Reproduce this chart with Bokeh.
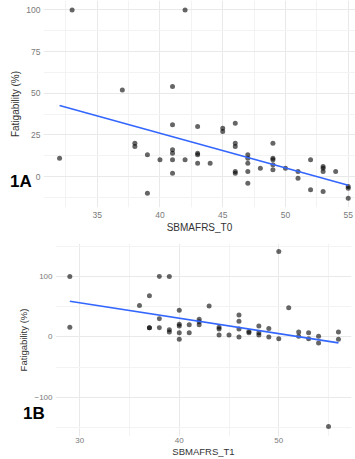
import numpy as np
from bokeh.plotting import figure
from bokeh.models import Range1d, FixedTicker, Div
from bokeh.embed import file_html
from bokeh.resources import INLINE

# ---- Panel 1A data (SBMAFRS_T0 vs fatigability) ----
t0_x = [32, 33, 37, 38, 38, 39, 39, 40, 41, 41, 41, 41, 41, 41, 42, 42, 43, 43, 43, 43,
        44, 45, 45, 46, 46, 46, 46, 46, 47, 47, 47, 47, 47, 48, 49, 49, 49, 49, 49, 50,
        51, 51, 52, 52, 53, 53, 53, 53, 54, 55, 55, 55]
t0_y = [11, 100, 52, 20, 18, 13, -10, 10, 54, 31, 16, 14, 10, 2, 100, 10, 30, 14, 13, 8,
        8, 29, 27, 32, 20, 18, 3, 2, 13, 11, 8, 3, -4, 5, 20, 11, 10, 7, 4, 5,
        3, -1, 10, -8, 6, 5, 3, -9, 3, -6, -7, -13]

# ---- Panel 1B data (SBMAFRS_T1 vs fatigability) ----
t1_x = [29, 29, 36, 37, 37, 37, 38, 38, 38, 39, 39, 39, 40, 40, 40, 40, 40, 41, 41, 42,
        42, 42, 43, 44, 44, 44, 45, 46, 46, 46, 46, 47, 47, 48, 48, 48, 49, 49, 50, 50,
        51, 52, 52, 53, 53, 54, 54, 55, 56, 56]
t1_y = [100, 16, 52, 68, 15, 15, 100, 30, 15, 100, 12, 8, 44, 21, 18, 7, -4, 20, 7, 29,
        25, 20, 51, 16, 13, 3, 3, 36, 26, 13, 0, 9, 7, 18, 7, 3, 14, 0, 141, -3,
        48, 8, 1, 7, -3, 1, -10, -148, 8, -4]

t0_xticks = [35, 40, 45, 50, 55]
t0_yticks = [0, 25, 50, 75, 100]
t1_xticks = [30, 40, 50]
t1_yticks = [-100, 0, 100]
panel_tags = ["1A", "1B"]

FONT = "Liberation Sans"
GRID = "#e9e9e9"
MINOR = "#f3f3f3"


def style(p, xt, xm, yt, ym, xlabel, tick_size, title_size, xstand, ystand, xlstand):
    for ax in (p.xaxis[0], p.yaxis[0]):
        ax.axis_line_color = None
        ax.major_tick_line_color = None
        ax.minor_tick_line_color = None
        ax.major_tick_in = 0
        ax.major_tick_out = 0
        ax.minor_tick_in = 0
        ax.minor_tick_out = 0
        ax.major_label_text_font = FONT
        ax.major_label_text_font_size = tick_size
        ax.major_label_text_color = "#7a7a7a"
        ax.axis_label_text_font = FONT
        ax.axis_label_text_font_size = title_size
        ax.axis_label_text_font_style = "normal"
        ax.axis_label_text_color = "#333333"
    p.xaxis[0].ticker = FixedTicker(ticks=xt, minor_ticks=xm)
    p.yaxis[0].ticker = FixedTicker(ticks=yt, minor_ticks=ym)
    p.xaxis[0].axis_label = xlabel
    p.yaxis[0].axis_label = "Fatigability (%)"
    p.xaxis[0].major_label_standoff = xstand
    p.yaxis[0].major_label_standoff = ystand
    p.xaxis[0].axis_label_standoff = xlstand
    p.yaxis[0].axis_label_standoff = 2
    for g in (p.xgrid[0], p.ygrid[0]):
        g.grid_line_color = GRID
        g.grid_line_width = 1
        g.minor_grid_line_color = MINOR
        g.minor_grid_line_width = 1
    p.outline_line_color = None
    p.background_fill_color = "white"
    p.border_fill_color = "white"


def add_fit(p, xs, ys):
    xs = np.asarray(xs, dtype=float)
    ys = np.asarray(ys, dtype=float)
    slope, intercept = np.polyfit(xs, ys, 1)
    lx = np.array([xs.min(), xs.max()])
    p.line(lx, slope * lx + intercept, line_color="#3366FF", line_width=1.6)


def tag_div(text, left, top):
    html = ('<span style="font: bold 17px \'Liberation Sans\', sans-serif; '
            'line-height: 17px; color: black; white-space: nowrap;">%s</span>' % text)
    return Div(text=html, width=30, height=17,
               styles={"position": "absolute", "left": "%dpx" % left, "top": "%dpx" % top,
                       "margin": "0", "padding": "0", "line-height": "17px", "z-index": "10"})


# ---- Top panel ----
W = 355
H1 = 240
p1 = figure(width=W, height=H1, output_backend="svg", toolbar_location=None,
            x_range=Range1d(30.72, 55.58), y_range=Range1d(-18.6, 105.65),
            min_border_left=43, min_border_right=0, min_border_top=0, min_border_bottom=33)
style(p1, t0_xticks, [32.5, 37.5, 42.5, 47.5, 52.5], t0_yticks, [-12.5, 12.5, 37.5, 62.5, 87.5],
      "SBMAFRS_T0", "8.5px", "10px", 4, 3, 1)
p1.scatter(t0_x, t0_y, size=5, fill_color="black", fill_alpha=0.6, line_color=None)
add_fit(p1, t0_x, t0_y)

# ---- Bottom panel ----
H2 = 219
p2 = figure(width=W, height=H2, output_backend="svg", toolbar_location=None,
            x_range=Range1d(27.56, 57.31), y_range=Range1d(-164.7, 154.4),
            min_border_left=55, min_border_right=4, min_border_top=3, min_border_bottom=22)
style(p2, t1_xticks, [35, 45, 55], t1_yticks, [-150, -50, 50, 150],
      "SBMAFRS_T1", "8px", "9.5px", 1, 3, 0)
p2.scatter(t1_x, t1_y, size=5, fill_color="black", fill_alpha=0.6, line_color=None)
add_fit(p2, t1_x, t1_y)

d1 = tag_div(panel_tags[0], 10, 173)
d2 = tag_div(panel_tags[1], 23, 405)

open("out.html", "w").write(file_html([p1, p2, d1, d2], INLINE))
